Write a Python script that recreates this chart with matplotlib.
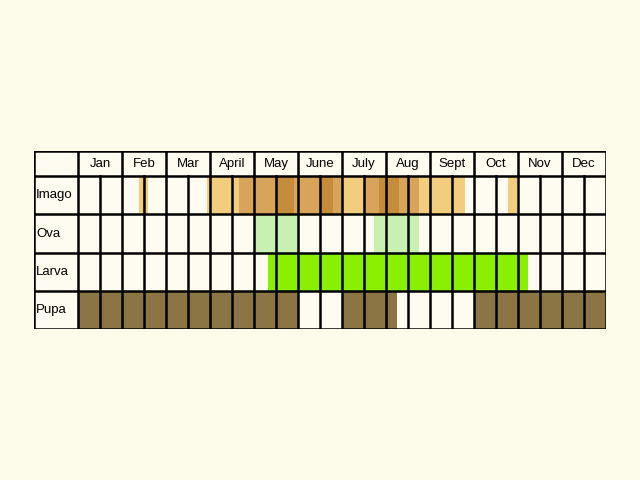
import matplotlib
matplotlib.use("Agg")
import matplotlib.pyplot as plt
from matplotlib.patches import Rectangle

months = ["Jan","Feb","Mar","April","May","June","July","Aug","Sept","Oct","Nov","Dec"]
stages = ["Imago","Ova","Larva","Pupa"]
# periods in half-month units (0 = start of Jan, 24 = end of Dec): (start, end, shade)
imago = [(2.75,3.2,"light"),(2.95,3.05,"mid"),(5.85,7.3,"light"),(7.3,9.0,"mid"),(9.0,9.8,"dark"),
         (9.8,11.1,"mid"),(11.1,11.6,"dark"),(11.6,12.0,"mid"),(12.0,13.0,"light"),(13.0,13.7,"mid"),
         (13.7,14.6,"dark"),(14.6,15.5,"mid"),(15.5,17.6,"light"),(19.55,19.95,"light")]
ova = [(8.0,10.0),(13.45,15.5)]
larva = [(8.65,20.45)]
pupa = [(0,10),(12,14.5),(18,24)]

bg = "#fdfbea"; cellbg = "#fefcf0"
shade = {"light":"#f2cd7e","mid":"#d8a45a","dark":"#c58d3b"}

fig = plt.figure(figsize=(6.4,4.8), dpi=100, facecolor=bg)
ax = fig.add_axes([34/640, 1-329/480, 572/640, 178/480])
ax.set_xlim(-2,24); ax.set_ylim(0,4.66); ax.axis("off")
ax.add_patch(Rectangle((-2,0),26,4.66,facecolor=cellbg,edgecolor="none"))
rowy = {"Imago":3,"Ova":2,"Larva":1,"Pupa":0}
for s,e,c in imago:
    ax.add_patch(Rectangle((s,3),e-s,1,facecolor=shade[c],edgecolor="none"))
for s,e in ova:
    ax.add_patch(Rectangle((s,2),e-s,1,facecolor="#c8f0b0",edgecolor="none"))
for s,e in larva:
    ax.add_patch(Rectangle((s,1),e-s,1,facecolor="#88f000",edgecolor="none"))
for s,e in pupa:
    ax.add_patch(Rectangle((s,0),e-s,1,facecolor="#8b7545",edgecolor="none"))
lw=1.8
for i in range(25):
    top = 4.66 if i%2==0 else 4
    ax.plot([i,i],[0,top],color="black",lw=lw,solid_capstyle="projecting")
ax.plot([-2,-2],[0,4.66],color="black",lw=lw)
for y in [0,1,2,3,4,4.66]:
    ax.plot([-2,24],[y,y],color="black",lw=lw,solid_capstyle="projecting")
for i,m in enumerate(months):
    ax.text(2*i+1,4.33,m,ha="center",va="center",fontsize=9.5,family="Liberation Sans")
for st in stages:
    ax.text(-1.9,rowy[st]+0.5,st,ha="left",va="center",fontsize=9.5,family="Liberation Sans")
fig.savefig("out.png",dpi=100,facecolor=bg)
